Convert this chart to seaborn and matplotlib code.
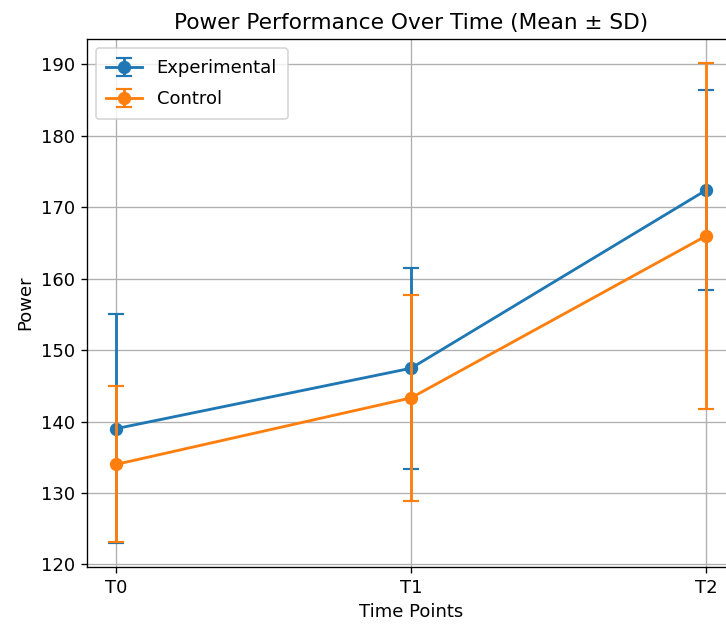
import matplotlib
matplotlib.use("Agg")
import matplotlib.pyplot as plt
import seaborn as sns
import pandas as pd
from matplotlib.legend_handler import HandlerTuple

time_points = ["T0", "T1", "T2"]
groups = ["Experimental", "Control"]
exp_mean = [139.0, 147.45, 172.35]
exp_sd = [16.0, 14.05, 13.95]
ctl_mean = [134.0, 143.3, 165.95]
ctl_sd = [10.9, 14.4, 24.15]

means = {"Experimental": exp_mean, "Control": ctl_mean}
sds = {"Experimental": exp_sd, "Control": ctl_sd}
colors = sns.color_palette("tab10", 2)

rows = []
for g in groups:
    for t, m, s in zip(time_points, means[g], sds[g]):
        rows.append({"Time": t, "Group": g, "Mean": m, "SD": s})
df = pd.DataFrame(rows)

plt.rcParams["font.size"] = 10.8

fig = plt.figure(figsize=(726 / 120, 627 / 120), dpi=120)
ax = fig.add_axes([86.5 / 726, (627 - 567) / 627, (735.5 - 86.5) / 726, (567 - 39) / 627])

handles = []
for g, c in zip(groups, colors):
    sub = df[df["Group"] == g]
    sns.lineplot(data=sub, x="Time", y="Mean", ax=ax, color=c, marker="o",
                 markersize=8, markeredgewidth=0, linewidth=1.7, legend=False, sort=False)
    line = ax.lines[-1]
    eb = ax.errorbar(range(len(sub)), sub["Mean"], yerr=sub["SD"], fmt="none",
                     ecolor=c, elinewidth=1.7, capsize=5, capthick=1.3)
    handles.append((eb, line))

ax.set_xlim(-0.1, 2.1)
ax.set_ylim(119.65, 193.5)
ax.set_yticks([120, 130, 140, 150, 160, 170, 180, 190])
ax.grid(True, color="#b0b0b0", linewidth=0.8)
ax.set_title("Power Performance Over Time (Mean ± SD)")
ax.set_xlabel("Time Points")
ax.set_ylabel("Power")
ax.legend(handles, groups, loc="upper left", labelspacing=0.75, borderpad=0.6,
          handler_map={tuple: HandlerTuple(ndivide=1)})

fig.savefig("out.png", dpi=120)
